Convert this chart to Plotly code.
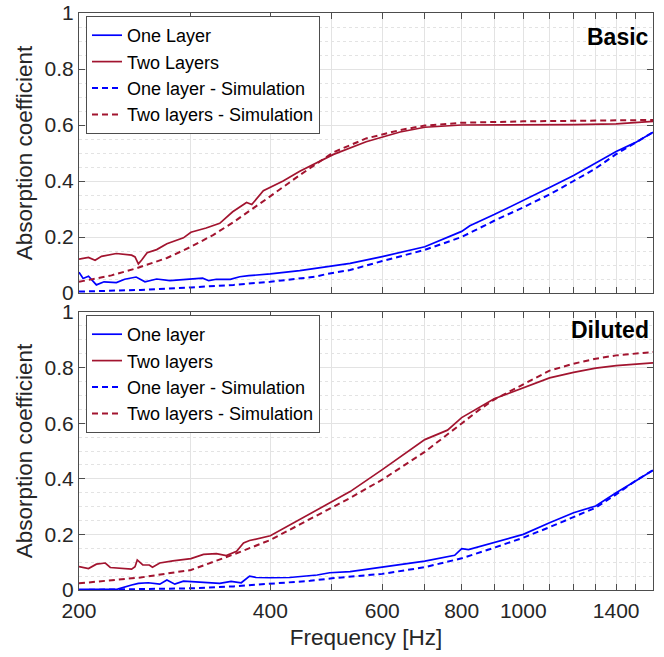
import math
import plotly.graph_objects as go

# ---------------- data ----------------
# Top panel: "Basic"
basic_one_f = [200, 203, 207, 213, 219, 229, 236, 246, 254, 265, 278, 292, 313, 320, 329, 346, 358, 370, 400, 445, 496, 534, 600, 700, 800, 824, 900, 1000, 1100, 1200, 1300, 1400, 1500, 1600]
basic_one_v = [0.074, 0.052, 0.06, 0.029, 0.04, 0.037, 0.049, 0.057, 0.04, 0.05, 0.044, 0.047, 0.053, 0.044, 0.049, 0.049, 0.058, 0.062, 0.068, 0.08, 0.094, 0.106, 0.13, 0.165, 0.22, 0.24, 0.28, 0.33, 0.377, 0.42, 0.463, 0.505, 0.537, 0.574]

basic_one_sim_f = [200, 250, 300, 350, 400, 470, 496, 534, 600, 700, 800, 900, 1000, 1100, 1200, 1300, 1400, 1500, 1600]
basic_one_sim_v = [0.005, 0.011, 0.02, 0.029, 0.04, 0.058, 0.07, 0.082, 0.114, 0.154, 0.2, 0.258, 0.306, 0.352, 0.4, 0.445, 0.496, 0.535, 0.574]

basic_two_f = [200, 207, 212, 217, 229, 242, 245, 248, 251, 256, 265, 275, 292, 300, 317, 333, 349, 367, 374, 390, 419, 445, 503, 566, 640, 700, 800, 1000, 1200, 1400, 1600]
basic_two_v = [0.121, 0.127, 0.117, 0.131, 0.141, 0.135, 0.129, 0.104, 0.118, 0.144, 0.155, 0.176, 0.197, 0.217, 0.232, 0.249, 0.29, 0.323, 0.316, 0.365, 0.40, 0.435, 0.495, 0.54, 0.575, 0.592, 0.6, 0.6, 0.601, 0.604, 0.613]

basic_two_sim_f = [200, 225, 246, 275, 300, 325, 349, 370, 394, 445, 503, 566, 640, 700, 800, 1000, 1200, 1400, 1600]
basic_two_sim_v = [0.04, 0.063, 0.088, 0.125, 0.165, 0.207, 0.251, 0.29, 0.335, 0.421, 0.503, 0.552, 0.582, 0.598, 0.608, 0.613, 0.614, 0.615, 0.618]

# Bottom panel: "Diluted"
dil_one_f = [200, 230, 242, 248, 257, 268, 275, 283, 292, 300, 317, 333, 347, 360, 371, 380, 400, 429, 474, 496, 534, 600, 700, 780, 800, 820, 900, 1000, 1100, 1200, 1300, 1400, 1500, 1600]
dil_one_v = [0.002, 0.003, 0.018, 0.024, 0.026, 0.021, 0.036, 0.021, 0.032, 0.03, 0.026, 0.024, 0.031, 0.026, 0.05, 0.045, 0.044, 0.045, 0.054, 0.062, 0.066, 0.083, 0.104, 0.125, 0.149, 0.145, 0.17, 0.2, 0.242, 0.278, 0.302, 0.35, 0.391, 0.431]

dil_one_sim_f = [200, 250, 300, 350, 400, 462, 500, 534, 600, 700, 800, 900, 1000, 1100, 1200, 1300, 1400, 1500, 1600]
dil_one_sim_v = [0.0, 0.003, 0.006, 0.013, 0.022, 0.033, 0.042, 0.048, 0.058, 0.082, 0.114, 0.152, 0.188, 0.226, 0.263, 0.296, 0.344, 0.392, 0.431]

dil_two_f = [200, 207, 213, 220, 224, 235, 242, 245, 247, 252, 258, 261, 268, 281, 300, 314, 329, 341, 354, 363, 371, 400, 429, 462, 500, 534, 600, 700, 760, 800, 900, 1000, 1100, 1200, 1300, 1400, 1500, 1600]
dil_two_v = [0.084, 0.077, 0.093, 0.097, 0.081, 0.077, 0.075, 0.084, 0.108, 0.09, 0.09, 0.082, 0.097, 0.105, 0.113, 0.128, 0.131, 0.124, 0.139, 0.169, 0.178, 0.195, 0.234, 0.274, 0.32, 0.354, 0.433, 0.541, 0.575, 0.62, 0.688, 0.728, 0.763, 0.783, 0.798, 0.807, 0.812, 0.817]

dil_two_sim_f = [200, 250, 300, 354, 400, 462, 496, 534, 600, 700, 800, 850, 900, 1000, 1100, 1200, 1300, 1400, 1500, 1600]
dil_two_sim_v = [0.024, 0.045, 0.072, 0.132, 0.18, 0.254, 0.292, 0.331, 0.397, 0.497, 0.599, 0.646, 0.685, 0.74, 0.789, 0.814, 0.832, 0.844, 0.85, 0.856]

x_tick_vals = [200, 300, 400, 500, 600, 700, 800, 900, 1000, 1100, 1200, 1300, 1400, 1500, 1600]
x_tick_text = ["200", "", "400", "", "600", "", "800", "", "1000", "", "", "", "1400", "", ""]
y_tick_vals = [0, 0.2, 0.4, 0.6, 0.8, 1]
y_tick_text = ["0", "0.2", "0.4", "0.6", "0.8", "1"]

top_names = ["One Layer", "Two Layers", "One layer - Simulation", "Two layers - Simulation"]
bot_names = ["One layer", "Two layers", "One layer - Simulation", "Two layers - Simulation"]

# ---------------- figure ----------------
BLUE = "#0000FF"
RED = "#A2142F"
FONT = "Liberation Sans, Arial, sans-serif"
TXT = "#262626"
AXC = "#4d4d4d"
GRID = "#e3e3e3"

fig = go.Figure()

def add(fx, fy, name, color, dashed, xa, ya, leg):
    fig.add_trace(go.Scatter(
        x=fx, y=fy, name=name, mode="lines",
        line=dict(color=color, width=2 if dashed else 1.7,
                  dash="6px,4px" if dashed else "solid"),
        xaxis=xa, yaxis=ya, legend=leg, legendgroup=leg + name))

add(basic_one_f, basic_one_v, top_names[0], BLUE, False, "x", "y", "legend")
add(basic_two_f, basic_two_v, top_names[1], RED, False, "x", "y", "legend")
add(basic_one_sim_f, basic_one_sim_v, top_names[2], BLUE, True, "x", "y", "legend")
add(basic_two_sim_f, basic_two_sim_v, top_names[3], RED, True, "x", "y", "legend")

add(dil_one_f, dil_one_v, bot_names[0], BLUE, False, "x2", "y2", "legend2")
add(dil_two_f, dil_two_v, bot_names[1], RED, False, "x2", "y2", "legend2")
add(dil_one_sim_f, dil_one_sim_v, bot_names[2], BLUE, True, "x2", "y2", "legend2")
add(dil_two_sim_f, dil_two_sim_v, bot_names[3], RED, True, "x2", "y2", "legend2")

xr = [math.log10(200), math.log10(1600)]

def xaxis(anchor, show_labels, title=None):
    d = dict(type="log", range=xr, tickvals=x_tick_vals, ticktext=x_tick_text,
             showticklabels=show_labels, ticks="inside", ticklen=6, tickcolor=AXC,
             showline=True, linecolor=AXC, linewidth=1, mirror="allticks",
             showgrid=True, gridcolor=GRID, gridwidth=1, zeroline=False,
             anchor=anchor, automargin=False, ticklabeloverflow="allow",
             ticklabelstandoff=2,
             tickfont=dict(family=FONT, size=21, color=TXT))
    if title:
        d["title"] = dict(text=title, font=dict(family=FONT, size=22.5, color=TXT), standoff=8)
    return d

def yaxis(domain, anchor):
    return dict(range=[0, 1], domain=domain, tickvals=y_tick_vals, ticktext=y_tick_text,
                ticks="inside", ticklen=6, tickcolor=AXC,
                showline=True, linecolor=AXC, linewidth=1, mirror="allticks",
                showgrid=True, gridcolor=GRID, gridwidth=1, zeroline=False,
                anchor=anchor, automargin=False, ticklabeloverflow="allow",
                minor=dict(dtick=0.05, tick0=0, showgrid=True, griddash="dot",
                           gridcolor=GRID, gridwidth=1, ticks=""),
                tickfont=dict(family=FONT, size=21, color=TXT),
                title=dict(text="Absorption coefficient",
                           font=dict(family=FONT, size=22.5, color=TXT), standoff=5))

# page body margin is removed (post_script), so pixel rows/cols map directly
W, H = 664, 657
ML, MR, MT, MB = 79, 664 - 653, 13, 657 - 590
PH = H - MT - MB
PW = W - ML - MR

def py(y_px):  # reference pixel row -> paper fraction
    return (H - MB - y_px) / PH

def px(x_px):
    return (x_px - ML) / PW

top_dom = [py(293), 1.0]
bot_dom = [0.0, py(312)]

legend_common = dict(bgcolor="white", bordercolor=AXC, borderwidth=1,
                     font=dict(family=FONT, size=18, color="#000000"),
                     xanchor="left", yanchor="top", itemwidth=30,
                     tracegroupgap=0, traceorder="normal")

fig.update_layout(
    width=W, height=H,
    margin=dict(l=ML, r=MR, t=MT, b=MB, autoexpand=False),
    plot_bgcolor="white", paper_bgcolor="white",
    xaxis=xaxis("y", False),
    yaxis=yaxis(top_dom, "x"),
    xaxis2=xaxis("y2", True, "Frequency [Hz]"),
    yaxis2=yaxis(bot_dom, "x2"),
    legend=dict(x=px(86), y=py(16), **legend_common),
    legend2=dict(x=px(86), y=py(315), **legend_common),
    showlegend=True,
    annotations=[
        dict(text="<b>Basic</b>", xref="paper", yref="paper", x=px(651), y=py(37),
             xanchor="right", yanchor="middle", showarrow=False,
             font=dict(family=FONT, size=23, color="#000000")),
        dict(text="<b>Diluted</b>", xref="paper", yref="paper", x=px(651), y=py(330),
             xanchor="right", yanchor="middle", showarrow=False,
             font=dict(family=FONT, size=23, color="#000000")),
    ],
)

fig.write_html("out.html", config={"displayModeBar": False},
               post_script="document.body.style.margin='0px';document.body.style.overflow='hidden';")
